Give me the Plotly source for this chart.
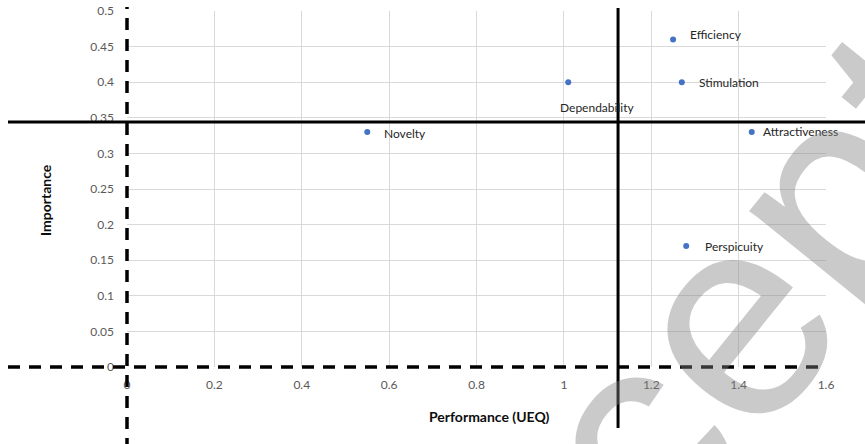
import plotly.graph_objects as go

# ---- data ----
dimensions = ["Efficiency", "Stimulation", "Dependability", "Attractiveness", "Perspicuity", "Novelty"]
performance = [1.25, 1.27, 1.01, 1.43, 1.28, 0.55]
importance = [0.46, 0.40, 0.40, 0.33, 0.17, 0.33]

perf_threshold = 1.124   # solid vertical reference
imp_threshold = 0.344    # solid horizontal reference

x_ticks = [0, 0.2, 0.4, 0.6, 0.8, 1, 1.2, 1.4, 1.6]
y_ticks = [0, 0.05, 0.1, 0.15, 0.2, 0.25, 0.3, 0.35, 0.4, 0.45, 0.5]

# ---- layout / style ----
W, H = 865, 444
L, T = 127, 11
PW, PH = 699, 356            # plot area size
R, B = W - L - PW, H - T - PH
xr = [0, 1.6]
yr = [0, 0.5]
FONT = "Lato"

# label offsets (pixels) per label: (xshift, yshift, xanchor)
label_style = {
    "Efficiency": (15, 5, "left"),
    "Stimulation": (15, 0, "left"),
    "Dependability": (29, -25, "center"),
    "Attractiveness": (9, 1, "left"),
    "Perspicuity": (17, -1, "left"),
    "Novelty": (15, -1, "left"),
}


def xp(v):
    return (v - xr[0]) / (xr[1] - xr[0])


def yp(v):
    return (v - yr[0]) / (yr[1] - yr[0])


def sx(px):  # screen pixel x -> paper
    return (px - L) / PW


def sy(py):  # screen pixel y -> paper
    return (T + PH - py) / PH


fig = go.Figure()
fig.add_trace(go.Scatter(
    x=performance, y=importance, mode="markers",
    marker=dict(color="#4472C4", size=6),
    hoverinfo="text", text=dimensions, showlegend=False,
))

for name, x, y in zip(dimensions, performance, importance):
    xs, ys, xa = label_style[name]
    fig.add_annotation(x=x, y=y, text=name, showarrow=False, xanchor=xa, yanchor="middle",
                       xshift=xs, yshift=ys, font=dict(family=FONT, size=12, color="#262626"))

shapes = [
    # dashed axes lines at 0
    dict(type="line", xref="paper", yref="paper", x0=xp(0), x1=xp(0), y0=sy(450), y1=sy(7),
         line=dict(color="black", width=3.5, dash="12px,9px")),
    dict(type="line", xref="paper", yref="paper", x0=sx(8), x1=sx(820), y0=yp(0), y1=yp(0),
         line=dict(color="black", width=3.5, dash="12px,9px")),
    # solid threshold lines
    dict(type="line", xref="paper", yref="paper", x0=xp(perf_threshold), x1=xp(perf_threshold),
         y0=sy(428), y1=sy(8), line=dict(color="black", width=3)),
    dict(type="line", xref="paper", yref="paper", x0=sx(8), x1=sx(870), y0=yp(imp_threshold),
         y1=yp(imp_threshold), line=dict(color="black", width=3)),
]

fig.update_layout(
    width=W, height=H,
    margin=dict(l=L, r=R, t=T, b=B, autoexpand=False),
    paper_bgcolor="white", plot_bgcolor="white",
    shapes=shapes,
    xaxis=dict(range=xr, tickvals=x_ticks, ticktext=[f"{v:g}" for v in x_ticks],
               showgrid=True, gridcolor="#d9d9d9", gridwidth=1, zeroline=False,
               showline=False, ticks="", ticklabelstandoff=9, ticklabeloverflow="allow",
               tickfont=dict(family=FONT, size=12, color="#595959")),
    yaxis=dict(range=yr, tickvals=y_ticks, ticktext=[f"{v:g}" for v in y_ticks],
               showgrid=True, gridcolor="#d9d9d9", gridwidth=1, zeroline=False,
               showline=False, ticks="", ticklabelstandoff=12, ticklabeloverflow="allow",
               tickfont=dict(family=FONT, size=12, color="#595959")),
    font=dict(family=FONT),
)

# axis titles
fig.add_annotation(xref="paper", yref="paper", x=sx(489), y=sy(416), text="<b>Performance (UEQ)</b>",
                   showarrow=False, xanchor="center", yanchor="middle",
                   font=dict(family=FONT, size=14, color="#0d0d0d"))
fig.add_annotation(xref="paper", yref="paper", x=sx(45), y=sy(200), text="<b>Importance</b>",
                   showarrow=False, xanchor="center", yanchor="middle", textangle=-90,
                   font=dict(family=FONT, size=14, color="#0d0d0d"))

# watermark
fig.add_annotation(xref="paper", yref="paper", x=sx(753), y=sy(291),
                   text="Accepted", showarrow=False, textangle=-51, xanchor="center", yanchor="middle",
                   font=dict(family="Liberation Sans", size=290, color="rgba(128,128,128,0.42)"))

fig.write_html("out.html", config={"displayModeBar": False},
               post_script="document.body.style.margin='0';document.body.style.overflow='hidden';")
